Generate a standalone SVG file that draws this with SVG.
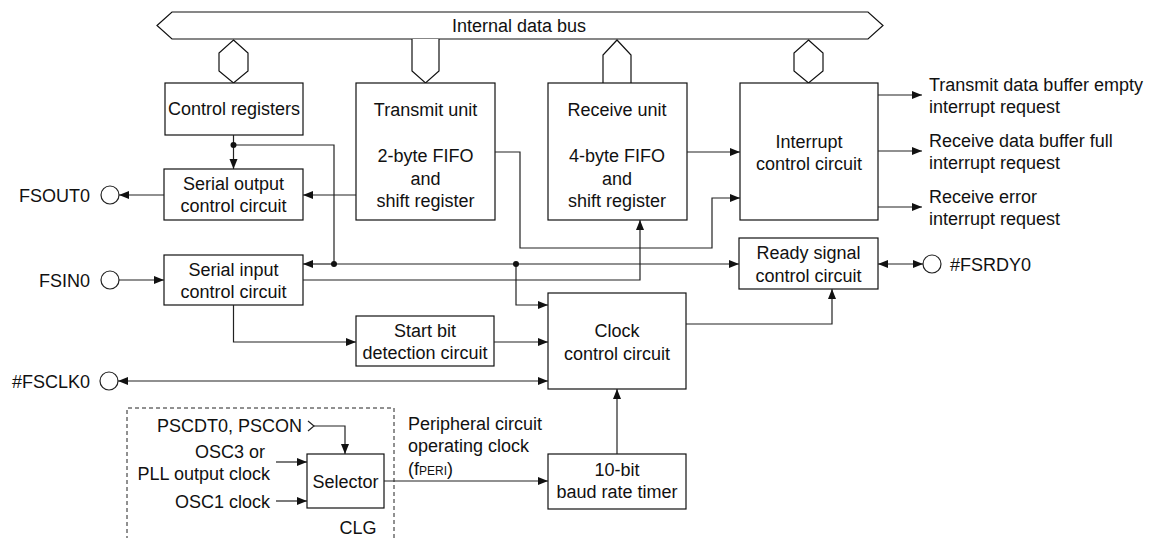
<svg xmlns="http://www.w3.org/2000/svg" width="1151" height="538" viewBox="0 0 1151 538">
<style>
.box{fill:#fff;stroke:#111;stroke-width:1.2}
.bus{fill:#fff;stroke:#111;stroke-width:1.2}
.ln{fill:none;stroke:#222;stroke-width:1.2}
.ar{fill:none;stroke:#222;stroke-width:1.2;marker-end:url(#ah)}
.ar2{fill:none;stroke:#222;stroke-width:1.2;marker-end:url(#ah);marker-start:url(#ah)}
.pin{fill:#fff;stroke:#222;stroke-width:1.2}
.dot{fill:#111}
.dash{fill:none;stroke:#222;stroke-width:1;stroke-dasharray:4 3}
text{font-family:"Liberation Sans",Arial,sans-serif;font-size:18px;fill:#111}
.c{text-anchor:middle}
.e{text-anchor:end}
</style>
<defs>
<marker id="ah" markerUnits="userSpaceOnUse" markerWidth="11" markerHeight="9" refX="10" refY="4" orient="auto-start-reverse">
<path d="M0,0 L10,4 L0,8 z" fill="#111"/>
</marker>
</defs>

<g id="bus">
<polygon class="bus" points="157,25.5 172,12 868,12 883,25.5 868,39 172,39"/>
<text class="c" x="519" y="32">Internal data bus</text>
</g>

<g id="control-registers">
<polygon class="bus" points="233.5,40 248,53 248,71 233.5,83 219,71 219,53"/>
<rect class="box" x="165" y="83" width="138" height="52"/>
<text class="c" x="234" y="115">Control registers</text>
</g>

<g id="transmit-unit">
<path class="bus" d="M412,39 V71 L425.5,83 L439,71 V39"/>
<rect class="box" x="356" y="83" width="139" height="137"/>
<text class="c" x="425.5" y="116">Transmit unit</text>
<text class="c" x="425.5" y="162">2-byte FIFO</text>
<text class="c" x="425.5" y="184.5">and</text>
<text class="c" x="425.5" y="207">shift register</text>
</g>

<g id="receive-unit">
<path class="bus" d="M603,83 V55 L617,40 L631,55 V83"/>
<rect class="box" x="548" y="83" width="139" height="137"/>
<text class="c" x="617" y="116">Receive unit</text>
<text class="c" x="617" y="162">4-byte FIFO</text>
<text class="c" x="617" y="184.5">and</text>
<text class="c" x="617" y="207">shift register</text>
</g>

<g id="interrupt-control">
<polygon class="bus" points="808.5,40 823,53 823,71 808.5,83 794,71 794,53"/>
<rect class="box" x="740" y="83" width="138" height="137"/>
<text class="c" x="809" y="148">Interrupt</text>
<text class="c" x="809" y="170">control circuit</text>
</g>

<g id="serial-output">
<rect class="box" x="164" y="169" width="139" height="51"/>
<text class="c" x="233.5" y="190">Serial output</text>
<text class="c" x="233.5" y="212">control circuit</text>
</g>

<g id="serial-input">
<rect class="box" x="164" y="255" width="139" height="50"/>
<text class="c" x="233.5" y="275.5">Serial input</text>
<text class="c" x="233.5" y="297.5">control circuit</text>
</g>

<g id="ready-signal">
<rect class="box" x="739" y="238" width="139" height="51"/>
<text class="c" x="808.5" y="259">Ready signal</text>
<text class="c" x="808.5" y="281.5">control circuit</text>
</g>

<g id="start-bit">
<rect class="box" x="356" y="316" width="138" height="50"/>
<text class="c" x="425" y="337">Start bit</text>
<text class="c" x="425" y="359">detection circuit</text>
</g>

<g id="clock-control">
<rect class="box" x="548" y="293" width="138" height="96"/>
<text class="c" x="617" y="337">Clock</text>
<text class="c" x="617" y="359.5">control circuit</text>
</g>

<g id="baud-timer">
<rect class="box" x="548" y="454" width="138" height="55"/>
<text class="c" x="617" y="476">10-bit</text>
<text class="c" x="617" y="498">baud rate timer</text>
</g>

<g id="clg">
<path class="dash" d="M127,540 V408 H394 V540"/>
<rect class="box" x="307" y="454" width="77" height="54"/>
<text class="c" x="345.5" y="488">Selector</text>
<text class="e" x="302" y="432">PSCDT0, PSCON</text>
<polyline class="ln" points="308,421 314,426 308,431"/>
<text class="e" x="265" y="458">OSC3 or</text>
<text class="e" x="270" y="480">PLL output clock</text>
<text class="e" x="270" y="508">OSC1 clock</text>
<text class="c" x="358" y="534">CLG</text>
</g>

<g id="pins">
<circle class="pin" cx="110" cy="195" r="9"/>
<text class="e" x="90" y="202">FSOUT0</text>
<circle class="pin" cx="110" cy="280" r="9"/>
<text class="e" x="90" y="287">FSIN0</text>
<circle class="pin" cx="109" cy="381" r="9"/>
<text class="e" x="90" y="388">#FSCLK0</text>
<circle class="pin" cx="932" cy="264" r="9"/>
<text x="950" y="271">#FSRDY0</text>
</g>

<g id="labels">
<text x="929" y="91">Transmit data buffer empty</text>
<text x="929" y="113">interrupt request</text>
<text x="929" y="147">Receive data buffer full</text>
<text x="929" y="169">interrupt request</text>
<text x="929" y="203">Receive error</text>
<text x="929" y="225">interrupt request</text>
<text x="408" y="430">Peripheral circuit</text>
<text x="408" y="452">operating clock</text>
<text x="408" y="475">(f<tspan font-size="12">PERI</tspan>)</text>
</g>

<g id="connectors">
<path class="ar" d="M233.5,135 V169"/>
<path class="ln" d="M233.5,145 H334 V264"/>
<path class="ar" d="M334,264 H303"/>
<path class="ar" d="M334,264 H739"/>
<path class="ar" d="M516,264 V305 H548"/>
<path class="ar" d="M356,195 H303"/>
<path class="ar" d="M164,195 H119"/>
<path class="ar" d="M119,280 H164"/>
<path class="ar" d="M303,280 H640 V220"/>
<path class="ar" d="M495,152 H520 V248 H712 V198 H740"/>
<path class="ar" d="M687,152 H740"/>
<path class="ar" d="M878,95 H922"/>
<path class="ar" d="M878,151 H922"/>
<path class="ar" d="M878,207 H922"/>
<path class="ar2" d="M878,264 H923"/>
<path class="ar" d="M686,324 H832 V289"/>
<path class="ar" d="M233.5,305 V342 H356"/>
<path class="ar" d="M494,342 H548"/>
<path class="ar2" d="M118,381 H548"/>
<path class="ar" d="M617,454 V389"/>
<path class="ar" d="M384,481 H548"/>
<path class="ar" d="M314,426 H345 V454"/>
<path class="ar" d="M276,462 H307"/>
<path class="ar" d="M276,501 H307"/>
<circle class="dot" cx="233.5" cy="145" r="3"/>
<circle class="dot" cx="334" cy="264" r="3"/>
<circle class="dot" cx="516" cy="264" r="3"/>
</g>
</svg>
